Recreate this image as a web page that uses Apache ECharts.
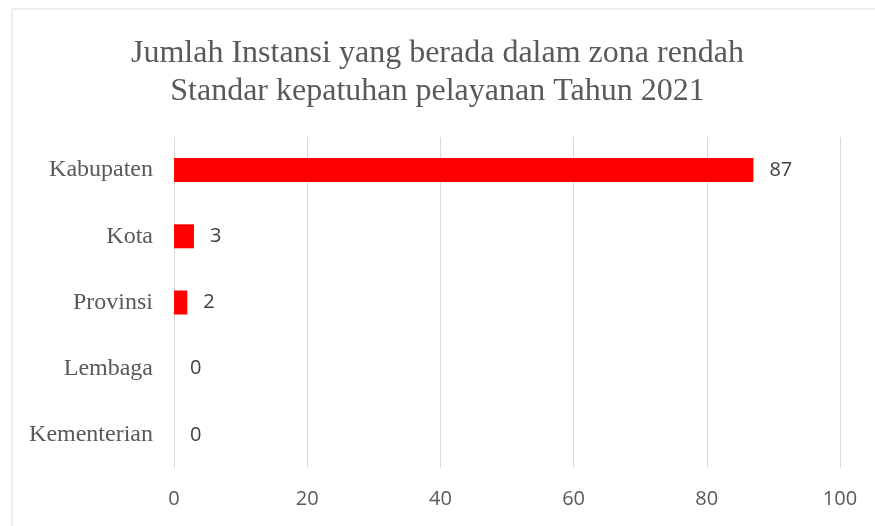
<!DOCTYPE html>
<html>
<head>
<meta charset="utf-8">
<script src="https://cdn.jsdelivr.net/npm/echarts@6/dist/echarts.min.js"></script>
<style>
  html, body { margin: 0; padding: 0; background: #fff; }
  #main { width: 875px; height: 526px; }
</style>
</head>
<body>
<div id="main"></div>
<script>
    // data
    var categories = ['Kabupaten', 'Kota', 'Provinsi', 'Lembaga', 'Kementerian'];
    var values = [87, 3, 2, 0, 0];
    var titleText = 'Jumlah Instansi yang berada dalam zona rendah\nStandar kepatuhan pelayanan Tahun 2021';

    var myChart = echarts.init(document.getElementById('main'));

    var option = {
        backgroundColor: '#fff',
        animation: false,
        graphic: [{
            type: 'rect',
            shape: { x: 12, y: 9, width: 870, height: 530 },
            style: { fill: 'none', stroke: '#d9d9d9', lineWidth: 1 },
            silent: true
        }],
        title: {
            text: titleText,
            left: 'center',
            top: 30,
            textStyle: {
                fontFamily: 'Liberation Serif',
                fontSize: 32,
                fontWeight: 'normal',
                color: '#595959',
                lineHeight: 38
            }
        },
        grid: { left: 174, right: 35, top: 137, bottom: 58 },
        xAxis: {
            type: 'value',
            min: 0,
            max: 100,
            interval: 20,
            axisLine: { show: false },
            axisTick: { show: false },
            splitLine: { lineStyle: { color: '#d9d9d9', width: 1 } },
            axisLabel: {
                margin: 21,
                color: '#595959',
                fontFamily: 'Open Sans',
                fontSize: 20
            }
        },
        yAxis: {
            type: 'category',
            inverse: true,
            data: categories,
            axisLine: { show: false },
            axisTick: { show: false },
            axisLabel: {
                margin: 21,
                color: '#595959',
                fontFamily: 'Liberation Serif',
                fontSize: 24
            }
        },
        series: [{
            type: 'bar',
            data: values,
            barWidth: 24,
            itemStyle: { color: '#ff0000' },
            label: {
                show: true,
                position: 'right',
                distance: 16,
                color: '#404040',
                fontFamily: 'Open Sans',
                fontSize: 20
            }
        }]
    };

    myChart.setOption(option);
</script>
</body>
</html>
